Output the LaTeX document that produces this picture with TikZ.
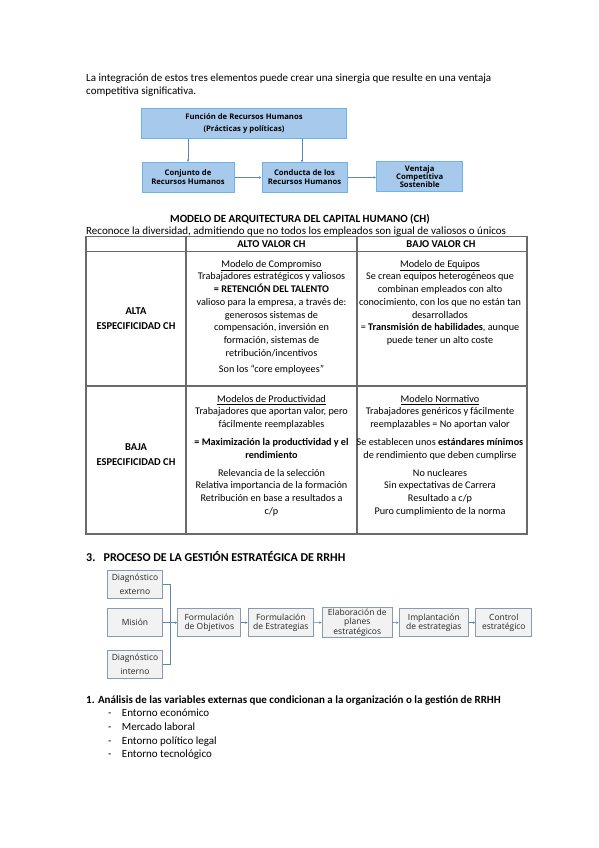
\documentclass[tikz,border=0pt]{standalone}
\usepackage{fontspec}
\setmainfont{Carlito}
\newfontfamily\cajafont{Open Sans}
\usetikzlibrary{arrows.meta}
\definecolor{azulcaja}{HTML}{A7C9EB}
\definecolor{azulborde}{HTML}{6CB4E8}
\definecolor{azulflecha}{HTML}{5F86AE}
\definecolor{griscaja}{HTML}{F2F2F2}
\definecolor{grisborde}{HTML}{8A9AAE}
\definecolor{lineatabla}{HTML}{6A6A6A}
\begin{document}
\begin{tikzpicture}[x=1pt,y=-1pt,
    texto/.style={anchor=base west,inner sep=0pt,font=\fontsize{11}{13}\selectfont},
    celda/.style={anchor=north,inner sep=0pt,align=center,font=\fontsize{10.2}{12.7}\selectfont},
    cajaazul/.style={draw=azulborde,fill=azulcaja,line width=1pt,align=center,inner sep=1pt,
        font=\cajafont\bfseries\fontsize{7.7}{9}\selectfont},
    cajagris/.style={draw=grisborde,fill=griscaja,line width=0.8pt,align=center,inner sep=1pt,
        minimum height=28pt,text=black!85,font=\cajafont\fontsize{8.5}{9.4}\selectfont},
    flechaazul/.style={-{Latex[length=2.5pt,width=2.5pt]},draw=azulflecha,line width=0.6pt},
    lineagris/.style={draw=azulflecha,line width=0.6pt}]
    \fill [white] (0,0) rectangle (599,848);
    \useasboundingbox (0,0) rectangle (599,848);

    % parrafo de arriba
    \node [texto] (intro1) at (86,81.5) {La integración de estos tres elementos puede crear una sinergia que resulte en una ventaja};
    \node [texto] (intro2) at (86,95) {competitiva significativa.};

    % esquema funcion / conjunto / conducta / ventaja
    \node [cajaazul,minimum width=205pt,minimum height=30pt] (funcion) at (244,123.3) {Función de Recursos Humanos\\[3pt](Prácticas y políticas)};
    \node [cajaazul,minimum width=92pt,minimum height=30pt] (conjunto) at (188,177.5) {Conjunto de\\Recursos Humanos};
    \node [cajaazul,minimum width=85pt,minimum height=30pt] (conducta) at (304.5,177.5) {Conducta de los\\Recursos Humanos};
    \node [cajaazul,minimum width=86pt,minimum height=30pt,font=\cajafont\bfseries\fontsize{7.7}{7.9}\selectfont] (ventaja) at (419.7,176.7) {Ventaja\\Competitiva\\Sostenible};
    \draw [flechaazul] (funcion.south -| conjunto.north) -- (conjunto.north);
    \draw [flechaazul] (funcion.south -| 302,0) -- (302,162.5);
    \draw [flechaazul] (conjunto.east) -- (conducta.west);
    \draw [flechaazul] (conducta.east) -- (ventaja.west |- conducta.east);

    % tabla del modelo de arquitectura
    \node [anchor=base,inner sep=0pt,font=\fontsize{11}{13}\selectfont\bfseries] (titulo) at (300,222.5) {MODELO DE ARQUITECTURA DEL CAPITAL HUMANO (CH)};
    \node [texto] (subtitulo) at (86,234) {Reconoce la diversidad, admitiendo que no todos los empleados son igual de valiosos o únicos};
    \draw [lineatabla,line width=1.1pt] (86,236.5) rectangle (527,534);
    \draw [lineatabla,line width=1.1pt] (86,251.7) -- (527,251.7);
    \draw [lineatabla,line width=1.1pt] (86,386) -- (527,386);
    \draw [lineatabla,line width=1.1pt] (186,236.5) -- (186,534);
    \draw [lineatabla,line width=1.1pt] (357,236.5) -- (357,534);

    \node [celda,anchor=base,font=\fontsize{10.5}{12.7}\selectfont\bfseries] (altovalor) at (271.5,247.8) {ALTO VALOR CH};
    \node [celda,anchor=base,font=\fontsize{10.5}{12.7}\selectfont\bfseries] (bajovalor) at (441,247.8) {BAJO VALOR CH};
    \node [celda,anchor=center,font=\fontsize{10.5}{15}\selectfont\bfseries] (alta) at (136,318.5) {ALTA\\ESPECIFICIDAD CH};
    \node [celda,anchor=center,font=\fontsize{10.5}{15}\selectfont\bfseries] (baja) at (136,454.5) {BAJA\\ESPECIFICIDAD CH};

    \node [celda] (compromiso) at (271.5,260) {\underline{Modelo de Compromiso}\\
        Trabajadores estratégicos y valiosos\\
        \textbf{= RETENCIÓN DEL TALENTO}\\
        valioso para la empresa, a través de:\\
        generosos sistemas de\\
        compensación, inversión en\\
        formación, sistemas de\\
        retribución/incentivos\\[3.5pt]
        Son los “core employees”};
    \node [celda] (equipos) at (440,260) {\underline{Modelo de Equipos}\\
        Se crean equipos heterogéneos que\\
        combinan empleados con alto\\
        conocimiento, con los que no están tan\\
        desarrollados\\
        = \textbf{Transmisión de habilidades}, aunque\\
        puede tener un alto coste};
    \node [celda] (productividad) at (271.5,395) {\underline{Modelos de Productividad}\\
        Trabajadores que aportan valor, pero\\
        fácilmente reemplazables\\[5pt]
        \textbf{= Maximización la productividad y el}\\
        \textbf{rendimiento}\\[5.5pt]
        Relevancia de la selección\\
        Relativa importancia de la formación\\
        Retribución en base a resultados a\\
        c/p};
    \node [celda] (normativo) at (440,395) {\underline{Modelo Normativo}\\
        Trabajadores genéricos y fácilmente\\
        reemplazables = No aportan valor\\[5pt]
        Se establecen unos \textbf{estándares mínimos}\\
        de rendimiento que deben cumplirse\\[5.5pt]
        No nucleares\\
        Sin expectativas de Carrera\\
        Resultado a c/p\\
        Puro cumplimiento de la norma};

    % proceso de la gestion estrategica
    \node [texto,font=\fontsize{12}{14}\selectfont\bfseries] (num3) at (86,561) {3.};
    \node [texto,font=\fontsize{12}{14}\selectfont\bfseries] (proceso) at (103.5,561) {PROCESO DE LA GESTIÓN ESTRATÉGICA DE RRHH};

    \node [cajagris,minimum width=55pt,font=\cajafont\fontsize{8.5}{14}\selectfont] (externo) at (135,584.5) {Diagnóstico\\externo};
    \node [cajagris,minimum width=55pt] (mision) at (135,622.7) {Misión};
    \node [cajagris,minimum width=55pt,font=\cajafont\fontsize{8.5}{14}\selectfont] (interno) at (135,664.5) {Diagnóstico\\interno};
    \node [cajagris,minimum width=63pt] (objetivos) at (209.3,622.7) {Formulación\\de Objetivos};
    \node [cajagris,minimum width=65pt] (estrategias) at (280.8,622.7) {Formulación\\de Estrategias};
    \node [cajagris,minimum width=70pt] (planes) at (357.3,622.5) {Elaboración de\\planes\\estratégicos};
    \node [cajagris,minimum width=69pt] (implantacion) at (433.8,622.7) {Implantación\\de estrategias};
    \node [cajagris,minimum width=56pt] (control) at (503.8,622.7) {Control\\estratégico};
    \coordinate (union) at (170,622.7);
    \draw [lineagris] (externo.east) -| (union);
    \draw [lineagris] (interno.east) -| (union);
    \draw [flechaazul] (mision.east) -- (objetivos.west);
    \draw [flechaazul] (objetivos.east) -- (estrategias.west);
    \draw [flechaazul] (estrategias.east) -- (planes.west);
    \draw [flechaazul] (planes.east) -- (implantacion.west);
    \draw [flechaazul] (implantacion.east) -- (control.west);

    % analisis de variables externas
    \node [texto,font=\fontsize{11}{13}\selectfont\bfseries] (analisis) at (86,703) {1. Análisis de las variables externas que condicionan a la organización o la gestión de RRHH};
    \foreach \y/\txt [count=\i] in {716.5/Entorno económico,730/Mercado laboral,744/Entorno político legal,757.5/Entorno tecnológico}{
        \node [texto] (guion\i) at (108,\y) {-};
        \node [texto] (entorno\i) at (121.7,\y) {\txt};
    }
\end{tikzpicture}
\end{document}
